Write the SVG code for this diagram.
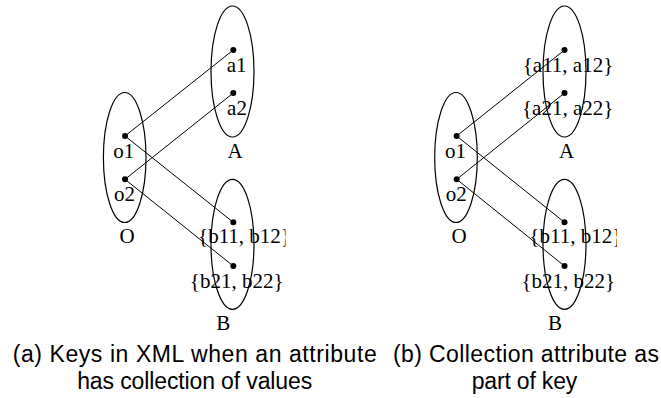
<svg xmlns="http://www.w3.org/2000/svg" width="661" height="398" viewBox="0 0 661 398">
<style>
.set{fill:none;stroke:#000;stroke-width:1.2}
.dot{fill:#000}
.lbl{font-family:"Liberation Serif","Times New Roman",serif;font-size:21px;fill:#000;text-anchor:middle}
.cap{font-family:"Liberation Sans",Arial,sans-serif;font-size:23px;fill:#000;text-anchor:middle}
.edge{stroke:#000;stroke-width:1;fill:none}
</style>
<defs>
<clipPath id="clipL"><rect x="0" y="0" width="285.5" height="398"/></clipPath>
<clipPath id="clipR"><rect x="0" y="0" width="617" height="398"/></clipPath>
</defs>
<rect width="661" height="398" fill="#fff"/>

<!-- Left subfigure -->
<g id="left-connectors">
<line class="edge" x1="125" y1="136" x2="233.3" y2="50"/>
<line class="edge" x1="125" y1="179.3" x2="233.3" y2="93"/>
<line class="edge" x1="125" y1="136" x2="233.3" y2="222.3"/>
<line class="edge" x1="125" y1="179.3" x2="233.3" y2="266"/>
</g>
<g id="left-A">
<ellipse class="set" cx="232.5" cy="71.5" rx="21.5" ry="65.5"/>
<text class="lbl" x="235" y="158">A</text>
</g>
<g id="left-O">
<ellipse class="set" cx="124.7" cy="157.5" rx="21.3" ry="65"/>
<text class="lbl" x="127" y="243">O</text>
</g>
<g id="left-B">
<ellipse class="set" cx="232.5" cy="244.3" rx="21.5" ry="65"/>
<text class="lbl" x="223.3" y="330">B</text>
</g>
<g id="left-a1"><circle class="dot" cx="233.3" cy="50" r="3"/><text class="lbl" x="236.7" y="72">a1</text></g>
<g id="left-a2"><circle class="dot" cx="233.3" cy="93" r="3"/><text class="lbl" x="237" y="115">a2</text></g>
<g id="left-o1"><circle class="dot" cx="125" cy="136" r="3"/><text class="lbl" x="123.7" y="158">o1</text></g>
<g id="left-o2"><circle class="dot" cx="125" cy="179.3" r="3"/><text class="lbl" x="124.5" y="200.7">o2</text></g>
<g id="left-b1"><circle class="dot" cx="233.3" cy="222.3" r="3"/><text class="lbl" x="244.5" y="243.3" clip-path="url(#clipL)">{b11, b12}</text></g>
<g id="left-b2"><circle class="dot" cx="233.3" cy="266" r="3"/><text class="lbl" x="236.7" y="288.3">{b21, b22}</text></g>

<!-- Right subfigure -->
<g id="right-connectors">
<line class="edge" x1="456.7" y1="136" x2="564.5" y2="50"/>
<line class="edge" x1="456.7" y1="179.3" x2="564.5" y2="93"/>
<line class="edge" x1="456.7" y1="136" x2="564.5" y2="222.3"/>
<line class="edge" x1="456.7" y1="179.3" x2="564.5" y2="266"/>
</g>
<g id="right-A">
<ellipse class="set" cx="564.5" cy="71.5" rx="21.5" ry="65.5"/>
<text class="lbl" x="566.7" y="158">A</text>
</g>
<g id="right-O">
<ellipse class="set" cx="456" cy="157.5" rx="21.3" ry="65"/>
<text class="lbl" x="459.2" y="243">O</text>
</g>
<g id="right-B">
<ellipse class="set" cx="564.5" cy="244.3" rx="21.5" ry="65"/>
<text class="lbl" x="555" y="330">B</text>
</g>
<g id="right-a1"><circle class="dot" cx="564.5" cy="50" r="3"/><text class="lbl" x="568" y="72">{a11, a12}</text></g>
<g id="right-a2"><circle class="dot" cx="564.5" cy="93" r="3"/><text class="lbl" x="567.7" y="115">{a21, a22}</text></g>
<g id="right-o1"><circle class="dot" cx="456.7" cy="136" r="3"/><text class="lbl" x="455.5" y="158">o1</text></g>
<g id="right-o2"><circle class="dot" cx="456.7" cy="179.3" r="3"/><text class="lbl" x="456.3" y="200.7">o2</text></g>
<g id="right-b1"><circle class="dot" cx="564.5" cy="222.3" r="3"/><text class="lbl" x="575.8" y="243.3" clip-path="url(#clipR)">{b11, b12}</text></g>
<g id="right-b2"><circle class="dot" cx="564.5" cy="266" r="3"/><text class="lbl" x="568.3" y="288.3">{b21, b22}</text></g>

<!-- Captions -->
<g id="caption-a">
<text class="cap" x="194.7" y="361.5" textLength="364">(a) Keys in XML when an attribute</text>
<text class="cap" x="194.7" y="389" textLength="235">has collection of values</text>
</g>
<g id="caption-b">
<text class="cap" x="526" y="361.5" textLength="266">(b) Collection attribute as</text>
<text class="cap" x="524.5" y="389" textLength="105.6">part of key</text>
</g>
</svg>
